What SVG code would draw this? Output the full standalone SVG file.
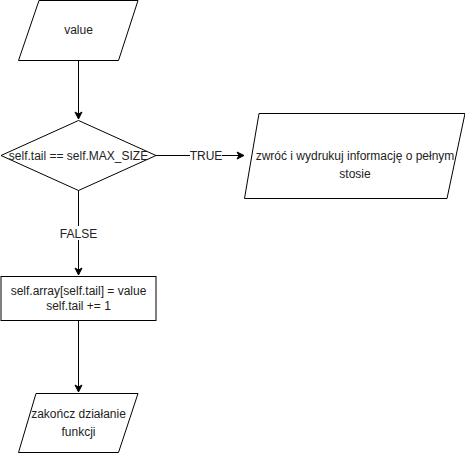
<svg xmlns="http://www.w3.org/2000/svg" width="465" height="454" viewBox="0 0 465 454">
<defs>
<style>
.s{fill:#fff;stroke:#000;stroke-width:1}
.t{font-family:"Liberation Sans",Arial,sans-serif;font-size:12px;fill:#222;text-anchor:middle}
.c{fill:none;stroke:#000;stroke-width:1}
.lb{fill:#fff}
</style>
<marker id="a" markerWidth="10" markerHeight="10" refX="8" refY="5" orient="auto" markerUnits="userSpaceOnUse">
<path d="M1,1.5 L8,5 L1,8.5 L3,5 Z" fill="#000" stroke="#000" stroke-width="1"/>
</marker>
</defs>
<rect width="465" height="454" fill="#fff"/>
<g id="connectors">
<path class="c" d="M78.5,60 V119" marker-end="url(#a)"/>
<path class="c" d="M156,155.5 H244" marker-end="url(#a)"/>
<path class="c" d="M78.5,190 V275" marker-end="url(#a)"/>
<path class="c" d="M78.5,320 V392" marker-end="url(#a)"/>
<rect class="lb" x="190" y="148" width="32" height="14"/>
<text class="t" x="206" y="159.5">TRUE</text>
<rect class="lb" x="60" y="226" width="37" height="14"/>
<text class="t" x="78.5" y="237.5">FALSE</text>
</g>
<g id="value">
<polygon class="s" points="39,0.5 138,0.5 118.5,60.5 18.5,60.5"/>
<text class="t" x="78.5" y="34">value</text>
</g>
<g id="decision">
<polygon class="s" points="78.5,120.5 156,155.5 78.5,190.5 1,155.5"/>
<text class="t" x="78.5" y="159.5">self.tail == self.MAX_SIZE</text>
</g>
<g id="full">
<polygon class="s" points="259,113.5 465,113.5 447,198.5 244.5,198.5"/>
<text class="t" x="355" y="159.5">zwróć i wydrukuj informację o pełnym</text>
<text class="t" x="355" y="178">stosie</text>
</g>
<g id="assign">
<rect class="s" x="1" y="276.5" width="155" height="44"/>
<text class="t" x="78.5" y="295">self.array[self.tail] = value</text>
<text class="t" x="78.5" y="310">self.tail += 1</text>
</g>
<g id="end">
<polygon class="s" points="36,393.5 138,393.5 118.5,452.5 18.5,452.5"/>
<text class="t" x="78.5" y="418">zakończ działanie</text>
<text class="t" x="78.5" y="436">funkcji</text>
</g>
</svg>
